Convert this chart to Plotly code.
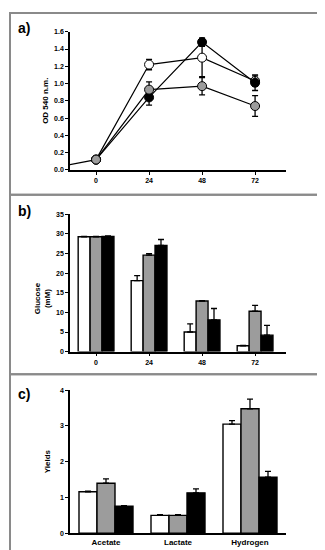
import plotly.graph_objects as go

# ---------------- data ----------------
# Panel a: OD 540 time course
time_a = [-24, 0, 24, 48, 72]
od_white = [None, 0.12, 1.22, 1.30, 1.03]
od_white_err = [0, 0.0, 0.06, 0.22, 0.06]
od_black = [None, 0.12, 0.84, 1.48, 1.01]
od_black_err = [0, 0.0, 0.09, 0.05, 0.09]
od_gray = [0.0, 0.12, 0.93, 0.97, 0.74]
od_gray_err = [0, 0.0, 0.09, 0.10, 0.12]
ticks_a = [0, 24, 48, 72]

# Panel b: glucose
time_b = [0, 24, 48, 72]
glu_white = [29.3, 18.1, 5.0, 1.5]
glu_white_err = [0.1, 1.3, 2.1, 0.1]
glu_gray = [29.3, 24.6, 12.9, 10.3]
glu_gray_err = [0.1, 0.4, 0.1, 1.5]
glu_black = [29.4, 27.1, 8.1, 4.2]
glu_black_err = [0.1, 1.5, 2.9, 2.5]

# Panel c: yields
products = ["Acetate", "Lactate", "Hydrogen"]
yld_white = [1.16, 0.50, 3.05]
yld_white_err = [0.02, 0.02, 0.10]
yld_gray = [1.40, 0.50, 3.48]
yld_gray_err = [0.12, 0.02, 0.27]
yld_black = [0.76, 1.13, 1.57]
yld_black_err = [0.01, 0.11, 0.16]

W, H = 325, 550
GRAY = "#9c9c9c"
FONT = "Liberation Sans, Arial, sans-serif"


def py(y):
    return 1 - y / H


fig = go.Figure()

# ---------- panel a ----------
for vals, err, col in [(od_white, od_white_err, "white"),
                       (od_black, od_black_err, "black"),
                       (od_gray, od_gray_err, GRAY)]:
    fig.add_trace(go.Scatter(
        x=time_a, y=vals, mode="lines+markers", xaxis="x", yaxis="y",
        line=dict(color="black", width=1.2),
        marker=dict(size=9, color=col, line=dict(color="black", width=1)),
        error_y=dict(type="data", array=err, color="black", thickness=1.3, width=3),
        connectgaps=False, showlegend=False, cliponaxis=True))

# ---------- panel b ----------
bw_b = 5.4
for i, (vals, err, col) in enumerate([(glu_white, glu_white_err, "white"),
                                      (glu_gray, glu_gray_err, GRAY),
                                      (glu_black, glu_black_err, "black")]):
    fig.add_trace(go.Bar(
        x=time_b, y=vals, xaxis="x2", yaxis="y2", width=bw_b,
        offset=-1.5 * bw_b + i * bw_b,
        marker=dict(color=col, line=dict(color="black", width=1.4)),
        error_y=dict(type="data", array=err, arrayminus=[0] * len(err),
                     symmetric=False, color="black", thickness=1.3, width=3),
        showlegend=False))

# ---------- panel c ----------
bw_c = 0.25
for i, (vals, err, col) in enumerate([(yld_white, yld_white_err, "white"),
                                      (yld_gray, yld_gray_err, GRAY),
                                      (yld_black, yld_black_err, "black")]):
    fig.add_trace(go.Bar(
        x=products, y=vals, xaxis="x3", yaxis="y3", width=bw_c,
        offset=-1.5 * bw_c + i * bw_c,
        marker=dict(color=col, line=dict(color="black", width=1.4)),
        error_y=dict(type="data", array=err, arrayminus=[0] * len(err),
                     symmetric=False, color="black", thickness=1.3, width=3),
        showlegend=False))

xdom = [62 / W, 278 / W]
tickfont = dict(family=FONT, size=7, color="black", weight="bold")
common_x = dict(domain=xdom, showline=True, linecolor="black", linewidth=1.5,
                ticks="outside", ticklen=3, tickwidth=1, tickcolor="black",
                showgrid=False, zeroline=False, tickfont=tickfont, fixedrange=True)
common_y = dict(showline=True, linecolor="black", linewidth=1.5,
                ticks="outside", ticklen=3, tickwidth=1, tickcolor="black",
                showgrid=False, zeroline=False, tickfont=tickfont, fixedrange=True)
x3 = dict(common_x)
x3.update(ticks="", tickfont=dict(family=FONT, size=8, color="black", weight="bold"))

fig.update_layout(
    width=W, height=H, margin=dict(l=0, r=0, t=0, b=0),
    paper_bgcolor="white", plot_bgcolor="white",
    font=dict(family=FONT, color="black"),
    xaxis=dict(**common_x, anchor="y", range=[-11.8, 86], tickvals=ticks_a),
    yaxis=dict(**common_y, anchor="x", domain=[py(160), py(20)], range=[0, 1.6],
               dtick=0.2, tickformat=".1f"),
    xaxis2=dict(**common_x, anchor="y2", range=[-11.8, 86], tickvals=time_b),
    yaxis2=dict(**common_y, anchor="x2", domain=[py(344), py(205)], range=[0, 35],
                dtick=5),
    xaxis3=dict(**x3, anchor="y3", type="category", range=[-0.5, 2.5]),
    yaxis3=dict(**common_y, anchor="x3", domain=[py(528), py(383)], range=[0, 4],
                dtick=1),
)

# panel borders
shapes = []
for (y0, y1) in [(1, 185), (185, 367), (367, 547)]:
    shapes.append(dict(type="rect", xref="paper", yref="paper",
                       x0=2 / W, x1=322 / W, y0=py(y1), y1=py(y0),
                       line=dict(color="#8a8a8a", width=2), layer="below"))
fig.update_layout(shapes=shapes)

ann = []
for txt, yy in [("a)", 16), ("b)", 202), ("c)", 387)]:
    ann.append(dict(text=txt, x=8 / W, y=py(yy), xref="paper", yref="paper",
                    xanchor="left", yanchor="middle", showarrow=False,
                    font=dict(family=FONT, size=14, color="black", weight="bold")))
for txt, xx, yy in [("OD 540 n.m.", 38, 90), ("Glucose<br>(mM)", 34, 290), ("Yields", 39, 455)]:
    ann.append(dict(text=txt, x=xx / W, y=py(yy), xref="paper", yref="paper",
                    xanchor="center", yanchor="middle", showarrow=False, textangle=-90,
                    font=dict(family=FONT, size=8, color="black", weight="bold")))
fig.update_layout(annotations=ann)

fig.write_html("out.html")
